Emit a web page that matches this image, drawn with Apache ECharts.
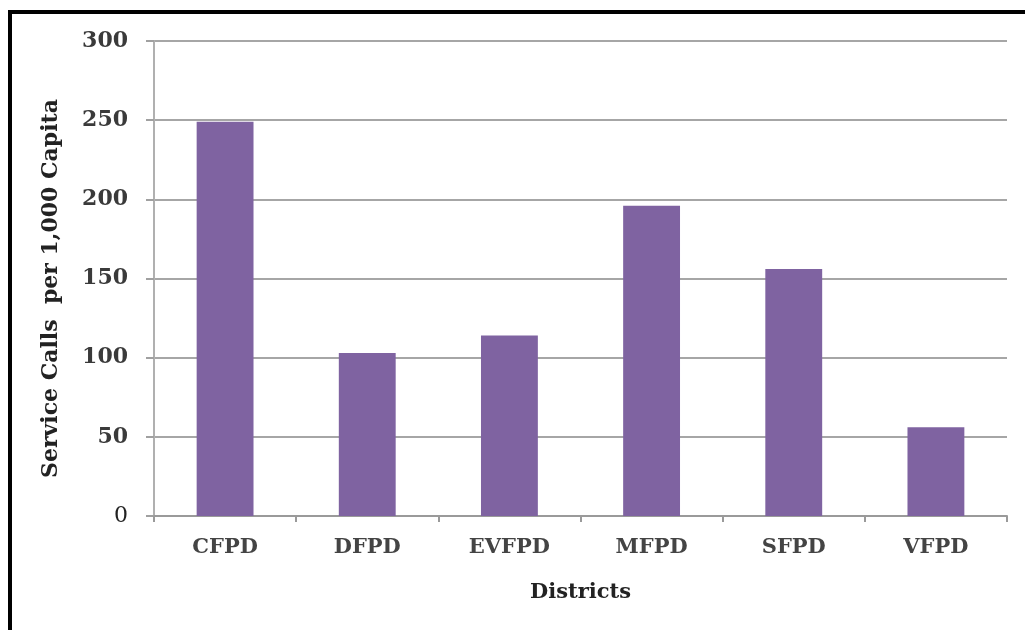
<!DOCTYPE html>
<html>
<head>
<meta charset="utf-8">
<script src="https://cdn.jsdelivr.net/npm/echarts@6/dist/echarts.min.js"></script>
<style>
  html, body { margin: 0; padding: 0; background: #fff; }
  #chart { width: 1025px; height: 630px; }
</style>
</head>
<body>
<div id="chart"></div>
<script>
// Fire protection districts and their service calls per 1,000 residents
const districts = ['CFPD', 'DFPD', 'EVFPD', 'MFPD', 'SFPD', 'VFPD'];
const callsPerThousand = [249, 103, 114, 196, 156, 56];
const yTicks = [0, 50, 100, 150, 200, 250, 300];

const serif = '"DejaVu Serif", "Liberation Serif", serif';
const textColor = '#3a3a3a';

const chart = echarts.init(document.getElementById('chart'), null, { renderer: 'canvas' });

chart.setOption({
  backgroundColor: '#ffffff',
  animation: false,
  grid: { left: 154, right: 18, top: 41, bottom: 114 },
  graphic: [
    // frame edges along the top and left
    { type: 'rect', shape: { x: 8, y: 10, width: 1017, height: 4 }, style: { fill: '#000' } },
    { type: 'rect', shape: { x: 8, y: 10, width: 4, height: 620 }, style: { fill: '#000' } }
  ],
  xAxis: {
    type: 'category',
    data: districts,
    name: 'Districts',
    nameLocation: 'middle',
    nameGap: 66,
    nameTextStyle: { fontFamily: serif, fontWeight: 'bold', fontSize: 21, color: '#222' },
    axisLine: { lineStyle: { color: '#9a9a9a', width: 2 } },
    axisTick: { show: true, length: 6, lineStyle: { color: '#9a9a9a', width: 2 } },
    axisLabel: { fontFamily: serif, fontWeight: 'bold', fontSize: 21, color: '#444', margin: 21 }
  },
  yAxis: {
    type: 'value',
    min: yTicks[0],
    max: yTicks[yTicks.length - 1],
    interval: yTicks[1] - yTicks[0],
    name: 'Service Calls  per 1,000 Capita',
    nameLocation: 'middle',
    nameGap: 92,
    nameTextStyle: { fontFamily: serif, fontWeight: 'bold', fontSize: 22, color: '#222', padding: [0, 20, 0, 0] },
    axisLine: { show: true, lineStyle: { color: '#b0b0b0', width: 2 } },
    axisTick: { show: true, length: 8, lineStyle: { color: '#a0a0a0', width: 2 } },
    axisLabel: {
      fontFamily: serif, fontWeight: 'bold', fontSize: 22, color: textColor, margin: 26,
      formatter: v => (v === 0 ? '{zero|0}' : String(v)),
      rich: { zero: { fontFamily: serif, fontWeight: 'normal', fontSize: 22, color: '#222' } }
    },
    splitLine: { lineStyle: { color: '#a6a6a6', width: 2 } }
  },
  series: [{
    type: 'bar',
    data: callsPerThousand,
    barWidth: '40%',
    itemStyle: { color: '#7f63a1' }
  }]
});
</script>
</body>
</html>
